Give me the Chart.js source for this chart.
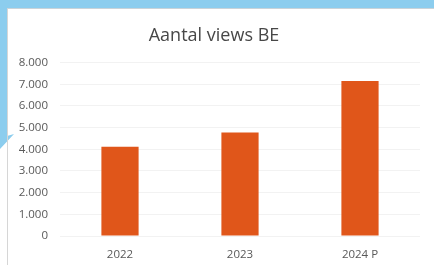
<!DOCTYPE html>
<html>
<head>
<meta charset="utf-8">
<script src="https://cdn.jsdelivr.net/npm/chart.js@4.4.1/dist/chart.umd.min.js"></script>
<style>
  html, body { margin: 0; padding: 0; background: #ffffff; }
  #page { position: relative; width: 434px; height: 265px; overflow: hidden; background: #ffffff; }
  #sky {
    position: absolute; left: 0; top: 0; width: 434px; height: 265px;
    background: #8ccdee;
    clip-path: polygon(0 0, 434px 0, 434px 8px, 7px 8px, 7px 136px, 14px 134px, 0 149px);
  }
  #panel {
    position: absolute; left: 7px; top: 8px; width: 427px; height: 257px;
    border-left: 1px solid #d6d6d6; border-top: 1px solid #c9d3d9;
    box-sizing: border-box;
  }
  #wrap { position: absolute; left: 8px; top: 9px; width: 419px; height: 256px; }
</style>
</head>
<body>
<div id="page">
  <div id="sky"></div>
  <div id="panel"></div>
  <div id="wrap"><canvas id="viewsChart" width="419" height="256"></canvas></div>
</div>
<script>
  const chartTitle = 'Aantal views BE';
  const years = ['2022', '2023', '2024 P'];
  const views = [4120, 4780, 7150];
  const yTicks = [0, 1000, 2000, 3000, 4000, 5000, 6000, 7000, 8000];

  function nlThousands(value) {
    const n = Number(value);
    if (!Number.isFinite(n)) return '0';
    return n.toLocaleString('nl-NL');
  }

  const ctx = document.getElementById('viewsChart').getContext('2d');

  new Chart(ctx, {
    type: 'bar',
    data: {
      labels: years,
      datasets: [
        {
          label: chartTitle,
          data: views,
          backgroundColor: '#e0561a',
          borderWidth: 0,
          barPercentage: 0.62,
          categoryPercentage: 0.5
        }
      ]
    },
    options: {
      responsive: false,
      animation: false,
      devicePixelRatio: 1,
      layout: { padding: { left: 0, right: 7, top: 0, bottom: 0 } },
      plugins: {
        legend: { display: false },
        tooltip: { enabled: false },
        title: {
          display: true,
          text: chartTitle,
          color: '#474747',
          font: { family: 'Open Sans', size: 18, weight: 'normal' },
          padding: { top: 16, bottom: 16 }
        }
      },
      scales: {
        x: {
          grid: { display: false },
          border: { display: false },
          ticks: {
            color: '#595959',
            font: { family: 'Open Sans', size: 11.5 },
            padding: 4
          },
          afterFit: (scale) => { scale.height = 29; }
        },
        y: {
          min: 0,
          max: 8000,
          afterBuildTicks: (scale) => {
            scale.ticks = yTicks.map((v) => ({ value: v }));
          },
          grid: { color: '#f2f2f2', drawTicks: false },
          border: { display: false },
          ticks: {
            color: '#595959',
            font: { family: 'Open Sans', size: 11.5 },
            padding: 12,
            callback: (v) => nlThousands(v)
          },
          afterFit: (scale) => { scale.width = 52; }
        }
      }
    }
  });
</script>
</body>
</html>
